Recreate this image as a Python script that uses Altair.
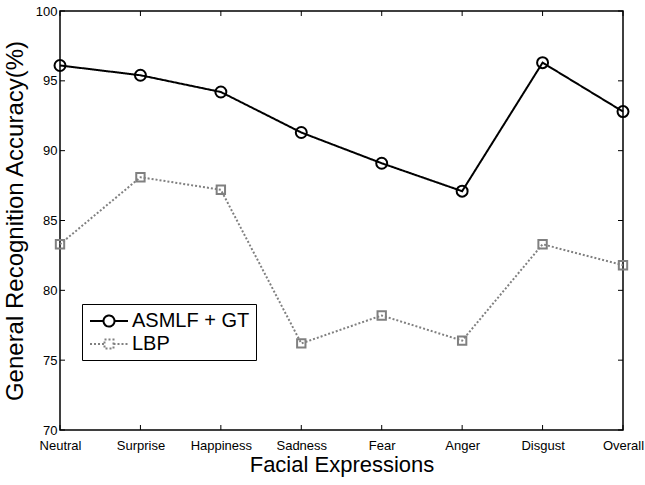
import altair as alt
import pandas as pd

categories = ["Neutral", "Surprise", "Happiness", "Sadness", "Fear", "Anger", "Disgust", "Overall"]
asmlf_gt = [96.1, 95.4, 94.2, 91.3, 89.1, 87.1, 96.3, 92.8]
lbp = [83.3, 88.1, 87.2, 76.2, 78.2, 76.4, 83.3, 81.8]
methods = ["ASMLF + GT", "LBP"]
y_ticks = [70, 75, 80, 85, 90, 95, 100]

rows = []
for i, (c, a, b) in enumerate(zip(categories, asmlf_gt, lbp)):
    rows.append({"idx": i, "Expression": c, "Value": a, "Method": methods[0]})
    rows.append({"idx": i, "Expression": c, "Value": b, "Method": methods[1]})
df = pd.DataFrame(rows)
ytick_df = pd.DataFrame({"t": y_ticks})
xtick_df = pd.DataFrame({"idx": list(range(len(categories)))})

W, H = 563, 419
FONT = "Liberation Sans"

label_expr = "[" + ",".join(f"'{c}'" for c in categories) + "][datum.value]"

xscale = alt.Scale(domain=[0, len(categories) - 1], nice=False, zero=False)
yscale = alt.Scale(domain=[70, 100], nice=False, zero=False)
color_scale = alt.Scale(domain=methods, range=["#000000", "#808080"])
dash_scale = alt.Scale(domain=methods, range=[[1, 0], [2, 2]])

circle_leg = ("M-1.9,0 L-0.55,0 M0.55,0 L1.9,0 M-0.55,0 A0.55,0.55 0 1 1 0.55,0 "
              "A0.55,0.55 0 1 1 -0.55,0")
square_leg = ("M-1.9,0 L-0.45,0 M0.45,0 L1.9,0 M-0.45,-0.45 L0.45,-0.45 "
              "L0.45,0.45 L-0.45,0.45 Z")
shape_scale_leg = alt.Scale(domain=methods, range=[circle_leg, square_leg])

x_enc = alt.X("idx:Q", scale=xscale,
              axis=alt.Axis(title="Facial Expressions", values=list(range(len(categories))),
                            labelExpr=label_expr, labelAngle=0, ticks=False,
                            domain=False, grid=False, labelFontSize=13, labelPadding=9,
                            labelFlush=False, labelOverlap=False,
                            titleFontSize=22, titleFontWeight="normal",
                            titlePadding=2, labelColor="black", titleColor="black"))
y_enc = alt.Y("Value:Q", scale=yscale,
              axis=alt.Axis(title="General Recognition Accuracy(%)", values=y_ticks,
                            ticks=False, domain=False, grid=False, labelFontSize=13,
                            labelPadding=3, labelFlush=False, labelOverlap=False,
                            titleFontSize=24, titleFontWeight="normal",
                            titlePadding=8, labelColor="black", titleColor="black"))

xq = alt.X("idx:Q", scale=xscale)
yq = alt.Y("Value:Q", scale=yscale)

base = alt.Chart(df)

lines = base.mark_line(strokeWidth=2).encode(
    x=x_enc, y=y_enc,
    color=alt.Color("Method:N", scale=color_scale, legend=None),
    strokeDash=alt.StrokeDash("Method:N", scale=dash_scale, legend=None),
)

pts_a = base.transform_filter(alt.datum.Method == methods[0]).mark_point(
    filled=False, strokeWidth=2, shape="circle", size=120, color="#000000", opacity=1
).encode(x=xq, y=yq)
pts_b = base.transform_filter(alt.datum.Method == methods[1]).mark_point(
    filled=False, strokeWidth=2, shape="square", size=70, color="#808080", opacity=1
).encode(x=xq, y=yq)

legend_layer = base.mark_point(filled=False, opacity=0).encode(
    x=xq, y=yq,
    shape=alt.Shape("Method:N", scale=shape_scale_leg,
                    legend=alt.Legend(title=None, orient="none", legendX=22, legendY=293,
                                      symbolSize=400, symbolStrokeWidth=2,
                                      symbolOffset=10,
                                      symbolOpacity=1, symbolFillColor="transparent",
                                      labelFontSize=20, labelColor="black",
                                      labelOffset=12, padding=6, rowPadding=2,
                                      strokeColor="black", fillColor="white",
                                      labelFont=FONT)),
    stroke=alt.Stroke("Method:N", scale=alt.Scale(domain=methods, range=["#000000", "#808080"]),
                      legend=None),
    strokeDash=alt.StrokeDash("Method:N", scale=alt.Scale(domain=methods, range=[[1, 0], [2, 2]]),
                              legend=None),
)

ytick_left = alt.Chart(ytick_df).mark_rule(color="black", strokeWidth=1).encode(
    y=alt.Y("t:Q", scale=yscale), x=alt.value(0), x2=alt.value(5))
ytick_right = alt.Chart(ytick_df).mark_rule(color="black", strokeWidth=1).encode(
    y=alt.Y("t:Q", scale=yscale), x=alt.value(W - 5), x2=alt.value(W))
xtick_bottom = alt.Chart(xtick_df).mark_rule(color="black", strokeWidth=1).encode(
    x=alt.X("idx:Q", scale=xscale), y=alt.value(H - 5), y2=alt.value(H))
xtick_top = alt.Chart(xtick_df).mark_rule(color="black", strokeWidth=1).encode(
    x=alt.X("idx:Q", scale=xscale), y=alt.value(0), y2=alt.value(5))

chart = alt.layer(
    lines, ytick_left, ytick_right, xtick_bottom, xtick_top, pts_a, pts_b, legend_layer
).resolve_scale(
    stroke="independent", shape="independent", strokeDash="independent"
).properties(
    width=W, height=H,
    autosize=alt.AutoSizeParams(type="none"),
    padding={"left": 60, "top": 11, "right": 22, "bottom": 55},
    background="white",
).configure(
    font=FONT
).configure_view(
    stroke="black", strokeWidth=1.5
)

chart.save("out.html", embed_options={"renderer": "svg", "actions": False})
